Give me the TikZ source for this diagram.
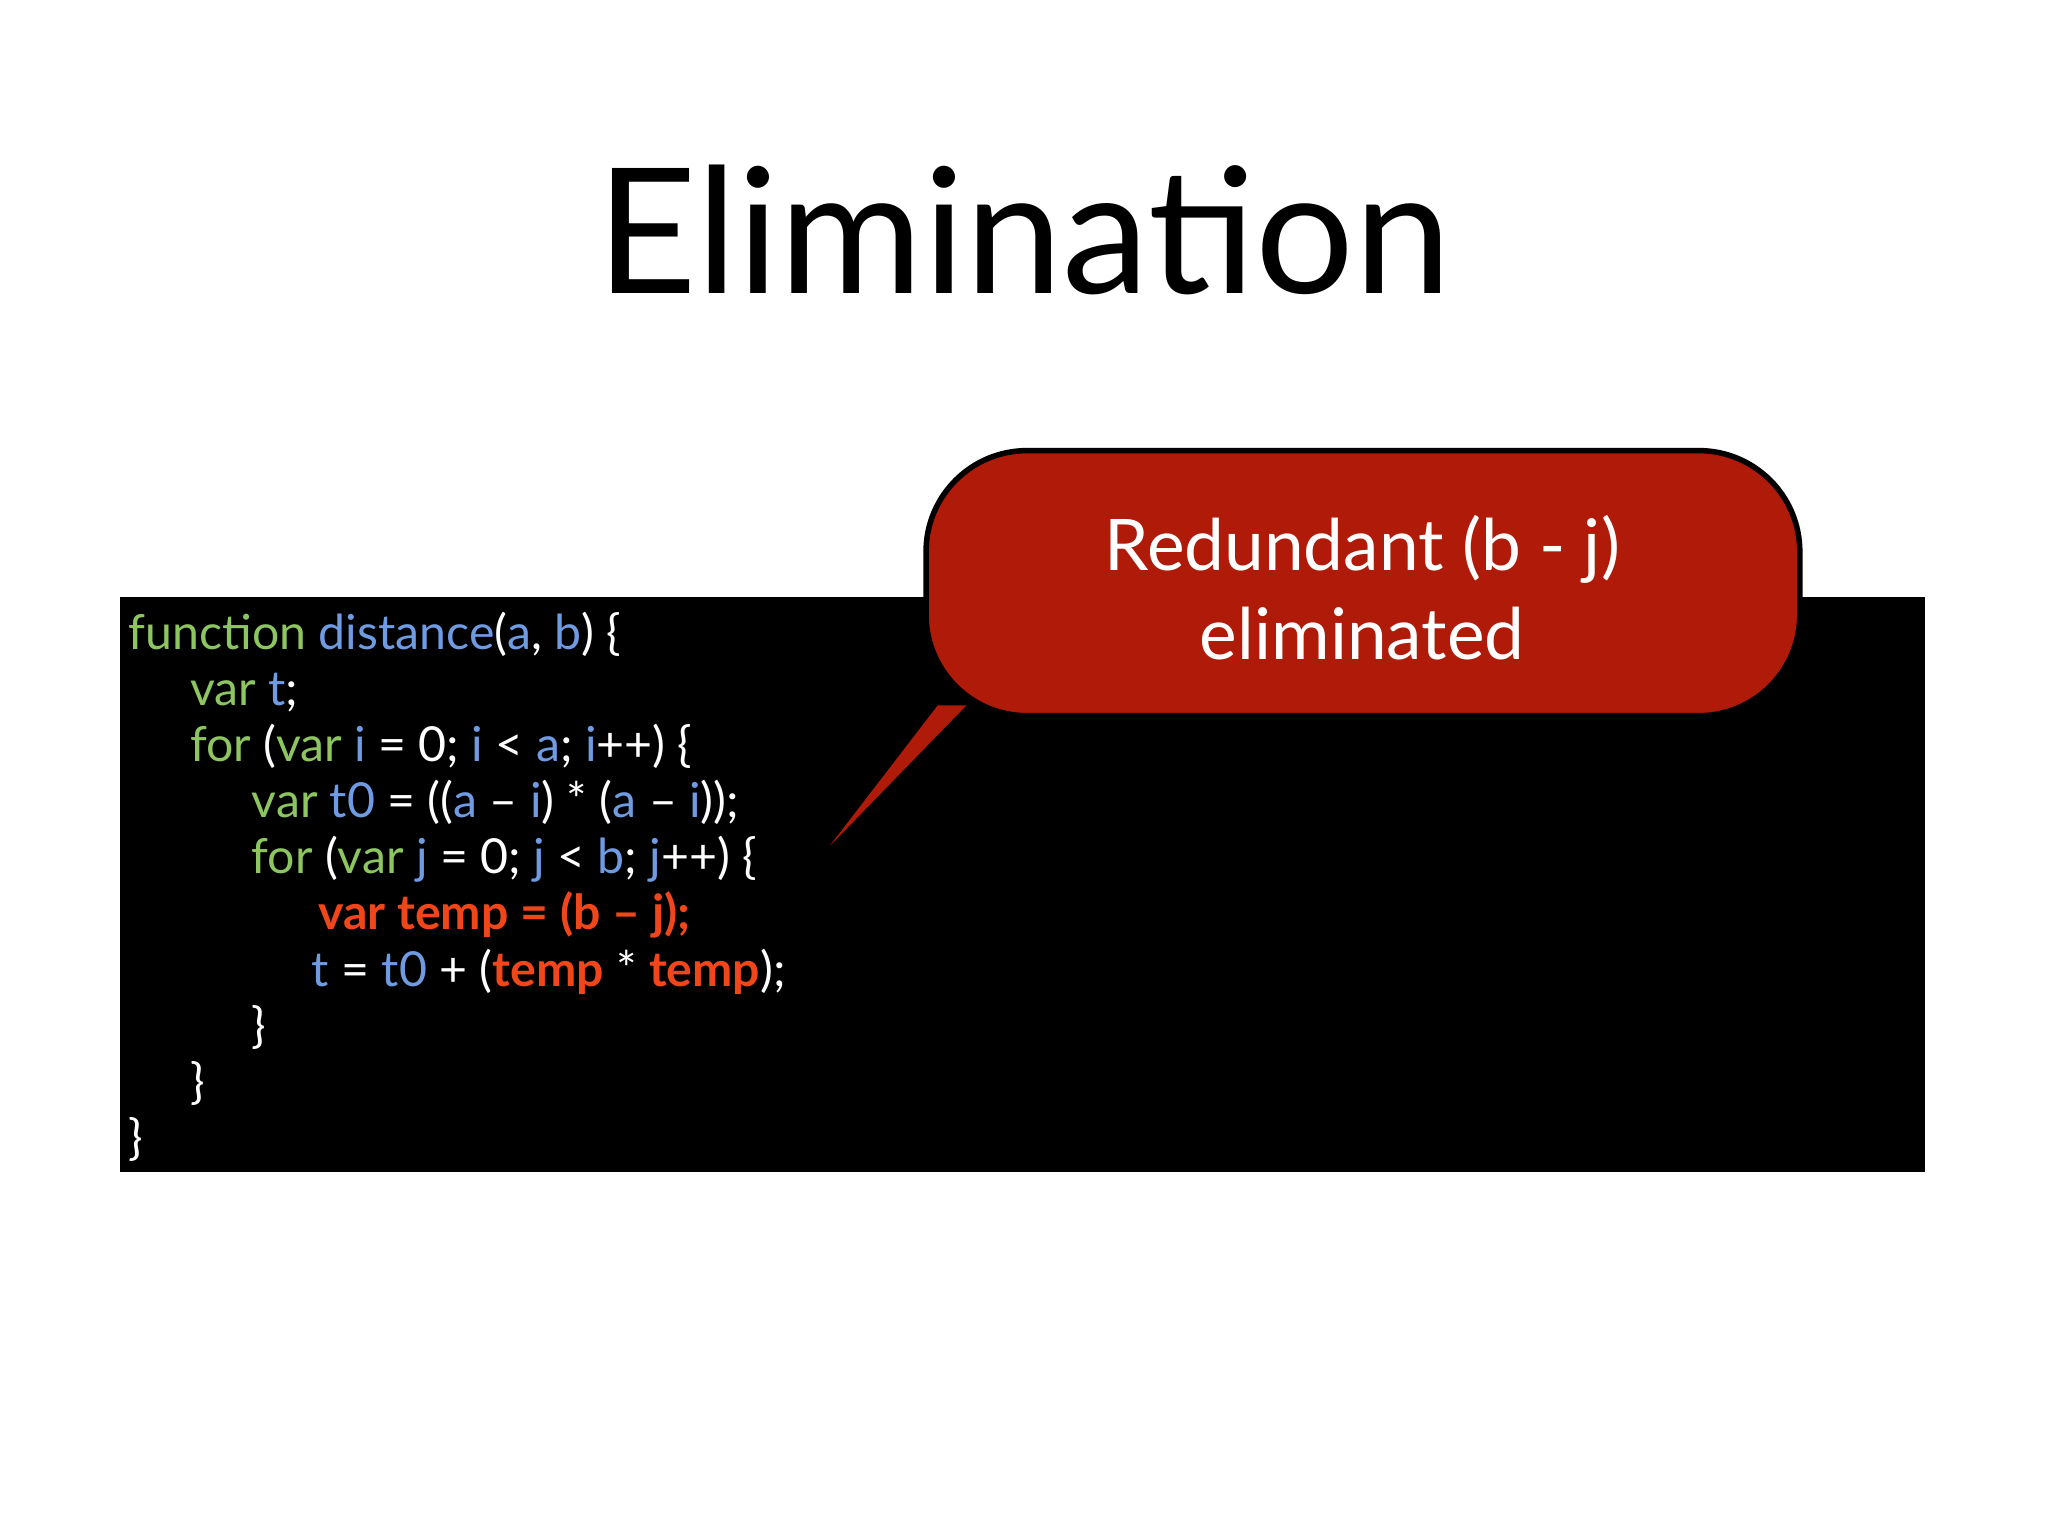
\documentclass[tikz,border=0pt]{standalone}
\usepackage{fontspec}
\setmainfont{Lato}
\definecolor{kg}{HTML}{8DC660}
\definecolor{kb}{HTML}{6F9BE3}
\definecolor{kr}{HTML}{F0461A}
\definecolor{cred}{HTML}{B01A08}
\newcommand{\G}[1]{\textcolor{kg}{#1}}
\newcommand{\B}[1]{\textcolor{kb}{#1}}
\newcommand{\R}[1]{\textcolor{kr}{\bfseries #1}}
\begin{document}
\begin{tikzpicture}[x=0.01cm,y=-0.01cm,
  code/.style={anchor=base west,inner sep=0,text=white,font=\fontsize{10.5pt}{12pt}\selectfont}]
\useasboundingbox (0,0) rectangle (1568,1176);
\fill[white] (0,0) rectangle (1568,1176);
\node[anchor=base,inner sep=0,font=\fontsize{38pt}{40pt}\selectfont] (title) at (784,225) {Elimination};
\fill[black] (92,457) rectangle (1474,897);
\node[code] (l1) at (98,497) {\G{function} \B{distance}(\B{a}, \B{b}) \{};
\node[code] (l2) at (145,540) {\G{var} \B{t};};
\node[code] (l3) at (145,583) {\G{for} (\G{var} \B{i} = 0; \B{i} < \B{a}; \B{i}++) \{};
\node[code] (l4) at (192,626) {\G{var} \B{t0} = ((\B{a} – \B{i}) * (\B{a} – \B{i}));};
\node[code] (l5) at (192,669) {\G{for} (\G{var} \B{j} = 0; \B{j} < \B{b}; \B{j}++) \{};
\node[code] (l6) at (243,712) {\R{var temp = (b – j);}};
\node[code] (l7) at (238,755) {\B{t} = \B{t0} + (\R{temp} * \R{temp});};
\node[code] (l8) at (192,798) {\}};
\node[code] (l9) at (145,841) {\}};
\node[code] (l10) at (98,884) {\}};
\coordinate (tip) at (635,648);
\fill[cred,draw=black,line width=1.2pt,rounded corners=22] (709,548) rectangle (1378,345);
\fill[cred] (718,540) -- (tip) -- (740,540) -- cycle;
\node[align=center,text=white,inner sep=0,font=\fontsize{15.5pt}{19.5pt}\selectfont] (call) at (1043,450) {Redundant (b - j)\\eliminated};
\end{tikzpicture}
\end{document}
